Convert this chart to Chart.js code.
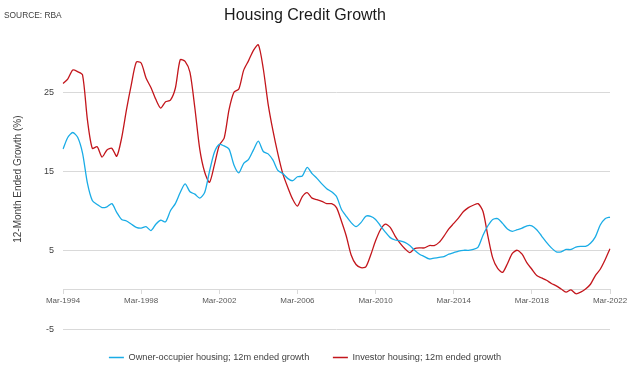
<!DOCTYPE html>
<html>
<head>
<meta charset="utf-8">
<script src="https://cdn.jsdelivr.net/npm/chart.js@4.4.1/dist/chart.umd.min.js"></script>
<style>
  html, body { margin: 0; padding: 0; background: #fff; }
</style>
</head>
<body>
<canvas id="chart" width="640" height="367"></canvas>
<script>
// quarterly categories, Mar-1994 .. Mar-2022
const quarterMonths = ["Mar", "Jun", "Sep", "Dec"];
const firstYear = 1994;
const quarterCount = 113;
const labels = [];
for (let i = 0; i < quarterCount; i++) {
  labels.push(quarterMonths[i % 4] + "-" + (firstYear + Math.floor(i / 4)));
}

const tickLabels = ["Mar-1994", "Mar-1998", "Mar-2002", "Mar-2006", "Mar-2010", "Mar-2014", "Mar-2018", "Mar-2022"];
const yTicks = [-5, 5, 15, 25];

// 12-month ended growth, %
const ownerOccupier = [
  17.8, 19.3, 19.9, 19.3, 17.3, 13.5, 11.3, 10.8, 10.4, 10.5,
  10.9, 9.8, 8.9, 8.7, 8.3, 7.9, 7.8, 8.0, 7.5, 8.3,
  8.8, 8.6, 10.0, 10.9, 12.3, 13.4, 12.4, 12.1,
  11.6, 12.3, 15.0, 17.4, 18.4, 18.2, 17.8, 15.8, 14.8, 16.0,
  16.5, 17.7, 18.8, 17.5, 17.2, 16.4, 15.1, 14.7, 14.1, 13.8,
  14.3, 14.4, 15.5, 14.7, 14.1, 13.4, 12.8,
  12.4, 11.8, 10.2, 9.3, 8.5, 8.0, 8.5, 9.3, 9.3, 8.9,
  8.1, 7.3, 6.6, 6.3, 6.2, 6.0, 5.6, 5.0, 4.5, 4.2,
  3.9, 4.0, 4.1, 4.2, 4.5, 4.7, 4.9,
  5.0, 5.0, 5.1, 5.4, 6.9, 8.1, 8.9, 9.0, 8.4, 7.7,
  7.4, 7.6, 7.8, 8.1, 8.1, 7.6, 6.8, 6.0, 5.3, 4.8,
  4.8, 5.1, 5.1, 5.4, 5.5, 5.5, 5.9, 6.7, 8.2, 9.0, 9.2
];
const investor = [
  26.1, 26.7, 27.8, 27.6, 27.2, 21.5, 17.9, 18.1, 16.8, 17.7,
  17.9, 16.9, 19.2, 22.8, 26.0, 28.8, 28.7, 26.8, 25.6, 24.1,
  23.0, 23.8, 24.0, 25.5, 29.1, 28.9, 27.5, 23.0,
  17.8, 14.9, 13.6, 15.8, 18.3, 19.2, 22.8, 25.0, 25.4, 27.8,
  29.0, 30.3, 31.0, 28.0, 23.5, 20.1, 17.2, 14.7, 13.0, 11.5,
  10.6, 11.8, 12.3, 11.6, 11.4, 11.2, 10.9,
  10.9, 10.4, 8.7, 6.8, 4.4, 3.2, 2.8, 2.9, 4.4, 6.2,
  7.6, 8.3, 7.9, 6.8, 5.9, 5.2, 4.7, 5.2, 5.3, 5.3,
  5.6, 5.6, 6.0, 6.8, 7.7, 8.4, 9.1,
  9.9, 10.4, 10.7, 10.9, 9.9, 6.8, 4.0, 2.7, 2.2, 3.3,
  4.6, 5.0, 4.5, 3.4, 2.6, 1.8, 1.5, 1.2, 0.8, 0.5,
  0.1, -0.3, 0.0, -0.5, -0.3, 0.1, 0.7, 1.8, 2.6, 3.8, 5.2
];

Chart.defaults.font.family = '"Liberation Sans", Arial, sans-serif';

const sourceNote = {
  id: "sourceNote",
  afterDraw(chart) {
    const ctx = chart.ctx;
    ctx.save();
    ctx.font = '8.4px "Liberation Sans", Arial, sans-serif';
    ctx.fillStyle = "#404040";
    ctx.textBaseline = "alphabetic";
    ctx.fillText("SOURCE: RBA", 4, 18);
    ctx.restore();
  },
};

// legend box fills the strip under the plot (it clips to its own box)
const legendHeight = {
  id: "legendHeight",
  beforeInit(chart) {
    const fit = chart.legend.fit;
    chart.legend.fit = function () {
      fit.call(this);
      this.height = 37.7;
    };
  },
};

new Chart(document.getElementById("chart"), {
  type: "line",
  data: {
    labels: labels,
    datasets: [
      {
        label: "Owner-occupier housing; 12m ended growth",
        data: ownerOccupier,
        borderColor: "#1aace6",
        backgroundColor: "#1aace6",
        borderWidth: 1.3,
        pointRadius: 0,
        tension: 0.25,
      },
      {
        label: "Investor housing; 12m ended growth",
        data: investor,
        borderColor: "#c3161c",
        backgroundColor: "#c3161c",
        borderWidth: 1.3,
        pointRadius: 0,
        tension: 0.25,
      },
    ],
  },
  options: {
    responsive: false,
    animation: false,
    layout: {
      padding: { top: 0, right: 30, bottom: 0, left: 0 },
    },
    plugins: {
      tooltip: { enabled: false },
      title: {
        display: true,
        text: "Housing Credit Growth",
        color: "#1a1a1a",
        font: { size: 16, weight: "normal" },
        padding: { top: 5.6, bottom: 4.2 },
      },
      legend: {
        position: "bottom",
        labels: {
          usePointStyle: true,
          pointStyle: "line",
          pointStyleWidth: 15,
          padding: 23.6,
          color: "#404040",
          font: { size: 9.2 },
        },
      },
    },
    scales: {
      x: {
        type: "category",
        position: { y: 0 },
        offset: false,
        afterFit: (scale) => {
          scale.height = 0;
        },
        grid: {
          display: true,
          drawOnChartArea: false,
          drawTicks: true,
          tickLength: 4,
          color: "#d9d9d9",
        },
        border: { display: true, color: "#d9d9d9" },
        ticks: {
          autoSkip: false,
          maxRotation: 0,
          minRotation: 0,
          padding: 2,
          color: "#595959",
          font: { size: 8 },
          callback: function (value) {
            const lab = this.getLabelForValue(value);
            return tickLabels.includes(lab) ? lab : null;
          },
        },
      },
      y: {
        min: -5,
        max: 33,
        afterFit: (scale) => {
          scale.width = 63;
        },
        afterBuildTicks: (scale) => {
          scale.ticks = yTicks.map((v) => ({ value: v }));
        },
        grid: { color: "#d9d9d9", drawTicks: false },
        border: { display: false },
        ticks: {
          padding: 9,
          color: "#404040",
          font: { size: 9 },
        },
        title: {
          display: true,
          text: "12-Month Ended Growth (%)",
          color: "#404040",
          font: { size: 10 },
          padding: { top: 12.5 },
        },
      },
    },
  },
  plugins: [sourceNote, legendHeight],
});
</script>
</body>
</html>
